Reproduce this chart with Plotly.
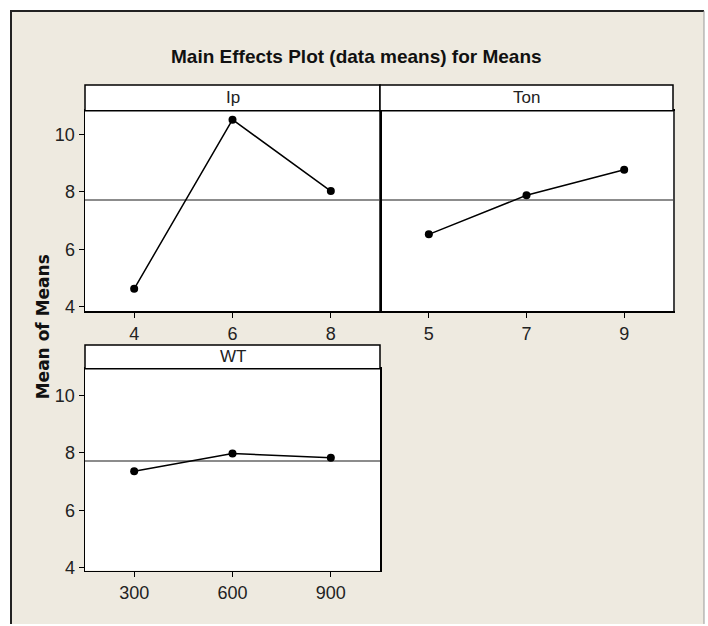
import plotly.graph_objects as go

# ---- data ----
ip_levels = [4, 6, 8]
ip_means = [4.62, 10.52, 8.03]
ton_levels = [5, 7, 9]
ton_means = [6.52, 7.88, 8.77]
wt_levels = [300, 600, 900]
wt_means = [7.36, 7.98, 7.83]
grand_mean = 7.72
y_ticks = [4, 6, 8, 10]
panel_titles = ["Ip", "Ton", "WT"]

W, H = 708, 626
def px(x): return x / W
def py(y): return 1 - y / H

BG = "#EEEAE0"
NARROW = "Liberation Sans, Arial, sans-serif"

fig = go.Figure()

line_style = dict(color="black", width=1.5)
marker_style = dict(color="black", size=8, symbol="circle")

fig.add_trace(go.Scatter(x=ip_levels, y=ip_means, mode="lines+markers",
                         line=line_style, marker=marker_style, xaxis="x", yaxis="y"))
fig.add_trace(go.Scatter(x=ton_levels, y=ton_means, mode="lines+markers",
                         line=line_style, marker=marker_style, xaxis="x2", yaxis="y2"))
fig.add_trace(go.Scatter(x=wt_levels, y=wt_means, mode="lines+markers",
                         line=line_style, marker=marker_style, xaxis="x3", yaxis="y3"))

# panel geometry in pixels: (left, right, strip_top, plot_top, plot_bottom)
panels = [
    (85, 380, 86, 112, 315),
    (380, 673, 86, 112, 315),
    (85, 380, 349, 373, 577),
]

tickfont = dict(family=NARROW, size=18, color="#222")
axis_common = dict(showline=True, mirror=True, linecolor="black", linewidth=1.5,
                   showgrid=False, zeroline=False, ticks="outside", ticklen=5,
                   tickwidth=1, tickcolor="black", tickfont=tickfont)

layout = dict(
    width=W, height=H, margin=dict(l=0, r=0, t=0, b=0),
    paper_bgcolor="white", plot_bgcolor="rgba(0,0,0,0)", showlegend=False,
    hovermode=False,
)

x_ranges = [[3, 9], [4, 10], [150, 1050]]
x_ticks = [ip_levels, ton_levels, wt_levels]
y_ranges = [[3.83, 10.83], [3.83, 10.83], [3.9, 10.93]]

for i, (l, r, st, pt, pb) in enumerate(panels):
    sfx = "" if i == 0 else str(i + 1)
    ax_id = "" if i == 0 else str(i + 1)
    layout["xaxis" + sfx] = dict(axis_common, domain=[px(l), px(r)], range=x_ranges[i],
                                 tickvals=x_ticks[i], anchor="y" + ax_id)
    ydict = dict(axis_common, domain=[py(pb), py(pt)], range=y_ranges[i],
                 tickvals=y_ticks, anchor="x" + ax_id)
    if i == 1:
        ydict.update(ticks="", showticklabels=False, linecolor="#444")
    layout["yaxis" + sfx] = ydict

fig.update_layout(**layout)

shapes = []
# frame background
shapes.append(dict(type="rect", xref="paper", yref="paper", x0=px(11), x1=px(704),
                   y0=py(H + 5), y1=py(10), fillcolor=BG, line=dict(width=0), layer="below"))
# plot area white backgrounds
for (l, r, st, pt, pb) in panels:
    shapes.append(dict(type="rect", xref="paper", yref="paper", x0=px(l), x1=px(r),
                       y0=py(pb), y1=py(pt), fillcolor="white", line=dict(width=0), layer="below"))
# mean lines
for i in range(3):
    ax_id = "" if i == 0 else str(i + 1)
    shapes.append(dict(type="line", xref="x" + ax_id + " domain", yref="y" + ax_id,
                       x0=0, x1=1, y0=grand_mean, y1=grand_mean,
                       line=dict(color="#666666", width=1.5), layer="below"))
# strips
for (l, r, st, pt, pb) in panels:
    shapes.append(dict(type="rect", xref="paper", yref="paper", x0=px(l), x1=px(r),
                       y0=py(pt), y1=py(st), fillcolor="white",
                       line=dict(color="black", width=1.5), layer="above"))
# frame borders
shapes.append(dict(type="line", xref="paper", yref="paper", x0=px(11), x1=px(11),
                   y0=py(H + 5), y1=py(10), line=dict(color="#222", width=2)))
shapes.append(dict(type="line", xref="paper", yref="paper", x0=px(10), x1=px(704),
                   y0=py(11), y1=py(11), line=dict(color="#222", width=2)))
shapes.append(dict(type="line", xref="paper", yref="paper", x0=px(704), x1=px(704),
                   y0=py(H + 5), y1=py(11), line=dict(color="#999", width=1)))
fig.update_layout(shapes=shapes)

annotations = []
for (l, r, st, pt, pb), t in zip(panels, panel_titles):
    annotations.append(dict(text=t, xref="paper", yref="paper", x=px((l + r) / 2),
                            y=py((st + pt) / 2), showarrow=False, xanchor="center",
                            yanchor="middle", font=dict(family=NARROW, size=17, color="#222")))
annotations.append(dict(text="<b>Main Effects Plot (data means) for Means</b>", xref="paper",
                        yref="paper", x=px(356), y=py(57), showarrow=False,
                        xanchor="center", yanchor="middle",
                        font=dict(family=NARROW, size=19, color="#111")))
annotations.append(dict(text="<b>Mean of Means</b>", xref="paper", yref="paper",
                        x=px(43), y=py(331), showarrow=False, textangle=-90,
                        xanchor="center", yanchor="middle",
                        font=dict(family="DejaVu Sans, Verdana, sans-serif", size=17, color="#111")))
fig.update_layout(annotations=annotations)

fig.write_html("out.html", config={"displayModeBar": False, "staticPlot": True},
               post_script="document.body.style.margin='0';document.body.style.overflow='hidden';")
